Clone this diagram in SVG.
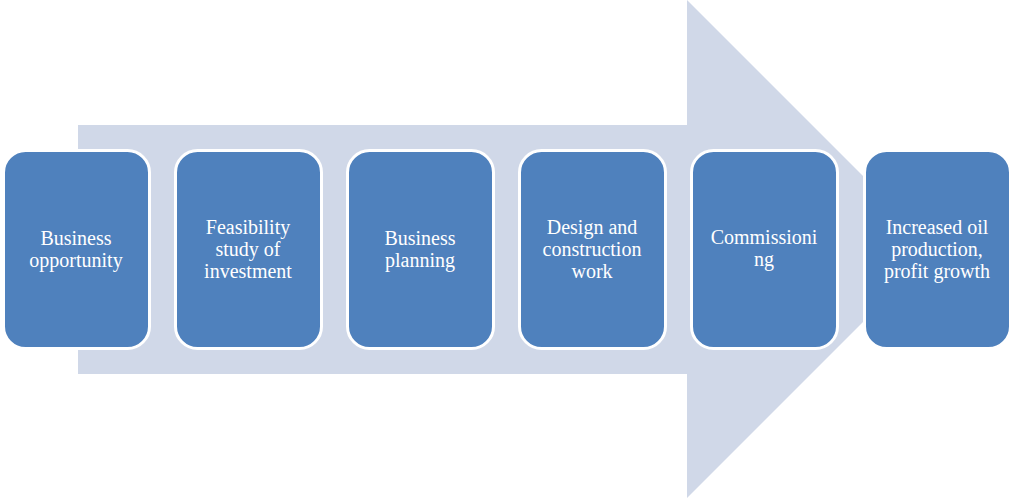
<svg xmlns="http://www.w3.org/2000/svg" width="1013" height="498" viewBox="0 0 1013 498">
<style>
.box{fill:#4F81BD;stroke:#FFFFFF;stroke-width:3}
.lbl{font-family:"Liberation Serif","Times New Roman",serif;font-size:20px;fill:#FFFFFF;text-anchor:middle}
</style>
<rect width="1013" height="498" fill="#FFFFFF"/>
<g id="arrow">
<polygon points="78,125 687,125 687,0 936,249 687,498 687,374 78,374" fill="#D0D8E8"/>
</g>
<g id="connectors"></g>
<g id="n1"><rect class="box" x="3.5" y="150.5" width="146" height="198" rx="22"/>
<text class="lbl" x="76" y="245">Business</text><text class="lbl" x="76" y="267">opportunity</text></g>
<g id="n2"><rect class="box" x="175.5" y="150.5" width="146" height="198" rx="22"/>
<text class="lbl" x="248" y="234">Feasibility</text><text class="lbl" x="248" y="256">study of</text><text class="lbl" x="248" y="278">investment</text></g>
<g id="n3"><rect class="box" x="347.5" y="150.5" width="146" height="198" rx="22"/>
<text class="lbl" x="420" y="245">Business</text><text class="lbl" x="420" y="267">planning</text></g>
<g id="n4"><rect class="box" x="519.5" y="150.5" width="146" height="198" rx="22"/>
<text class="lbl" x="592" y="234">Design and</text><text class="lbl" x="592" y="256">construction</text><text class="lbl" x="592" y="278">work</text></g>
<g id="n5"><rect class="box" x="691.5" y="150.5" width="146" height="198" rx="22"/>
<text class="lbl" x="764" y="244">Commissioni</text><text class="lbl" x="764" y="266">ng</text></g>
<g id="n6"><rect class="box" x="864.5" y="150.5" width="146" height="198" rx="22"/>
<text class="lbl" x="937" y="234">Increased oil</text><text class="lbl" x="937" y="256">production,</text><text class="lbl" x="937" y="278">profit growth</text></g>
</svg>
